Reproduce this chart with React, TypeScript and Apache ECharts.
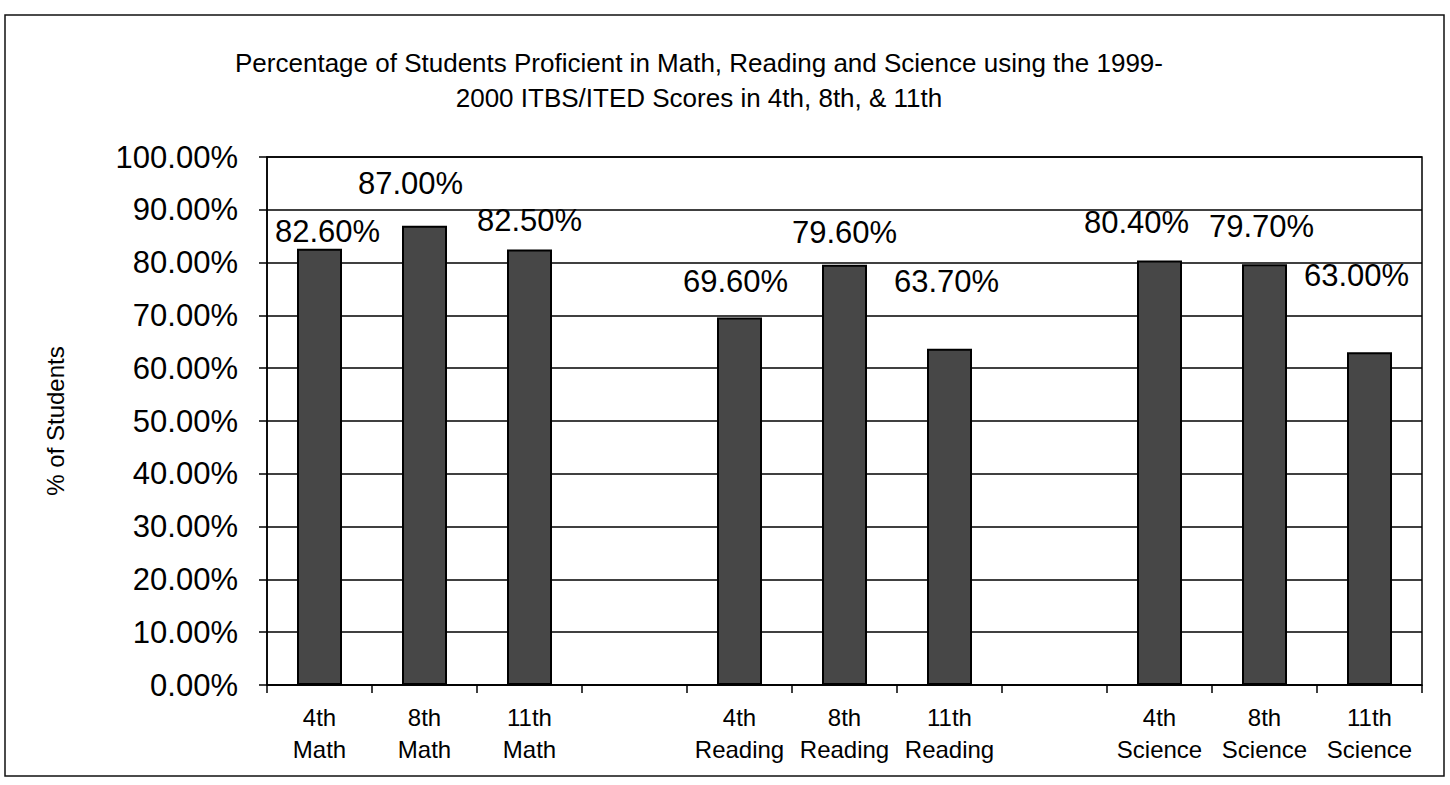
import React, { useEffect, useRef } from "react";
import * as echarts from "echarts";

const categories = [
  "4th\nMath", "8th\nMath", "11th\nMath", "",
  "4th\nReading", "8th\nReading", "11th\nReading", "",
  "4th\nScience", "8th\nScience", "11th\nScience",
];
const values: (number | null)[] = [82.6, 87.0, 82.5, null, 69.6, 79.6, 63.7, null, 80.4, 79.7, 63.0];
const labelOffsets: number[][] = [
  [8, 0], [-14, -25], [0, -11], [0, 0],
  [-4, -19], [0, -15], [-3, -50], [0, 0],
  [-23, -20], [-3, -20], [-13, -59],
];
const titleLine1 = "Percentage of Students Proficient in Math, Reading and Science using the 1999-";
const titleLine2 = "2000 ITBS/ITED Scores in 4th, 8th, & 11th";
const yAxisName = "% of Students";

const FONT = "'Liberation Sans', Arial, sans-serif";

export default function App() {
  const ref = useRef<HTMLDivElement>(null);
  useEffect(() => {
    if (!ref.current) return;
    const chart = echarts.init(ref.current, null, { renderer: "svg" });
    chart.setOption({
      animation: false,
      backgroundColor: "#fff",
      textStyle: { fontFamily: FONT, color: "#000" },
      graphic: [
        {
          type: "rect",
          shape: { x: 5, y: 15, width: 1439, height: 761 },
          style: { fill: "none", stroke: "#111", lineWidth: 1.5 },
          silent: true,
        },
        {
          type: "text",
          x: 699,
          y: 63,
          style: {
            text: titleLine1,
            font: `26px ${FONT}`,
            fill: "#000",
            textAlign: "center",
            textVerticalAlign: "middle",
          },
        },
        {
          type: "text",
          x: 699,
          y: 98,
          style: {
            text: titleLine2,
            font: `26px ${FONT}`,
            fill: "#000",
            textAlign: "center",
            textVerticalAlign: "middle",
          },
        },
      ],
      grid: {
        left: 267,
        right: 28,
        top: 157,
        bottom: 100,
        show: true,
        borderColor: "#000",
        borderWidth: 1.5,
        backgroundColor: "transparent",
      },
      xAxis: {
        type: "category",
        data: categories,
        boundaryGap: true,
        axisLine: { lineStyle: { color: "#000", width: 1.5 } },
        axisTick: { show: true, alignWithLabel: false, length: 8, lineStyle: { color: "#000", width: 1.5 } },
        axisLabel: {
          interval: 0,
          color: "#000",
          fontSize: 24,
          lineHeight: 32,
          margin: 16,
          fontFamily: FONT,
        },
      },
      yAxis: {
        type: "value",
        min: 0,
        max: 100,
        interval: 10,
        name: yAxisName,
        nameLocation: "middle",
        nameRotate: 90,
        nameGap: 200,
        nameTextStyle: { fontSize: 24, color: "#000", fontFamily: FONT },
        axisLine: { show: true, lineStyle: { color: "#000", width: 1.5 } },
        axisTick: { show: true, length: 8, lineStyle: { color: "#000", width: 1.5 } },
        axisLabel: {
          color: "#000",
          fontSize: 31,
          margin: 29,
          fontFamily: FONT,
          formatter: (v: number) => v.toFixed(2) + "%",
        },
        splitLine: { show: true, lineStyle: { color: "#000", width: 1.5 } },
      },
      series: [
        {
          type: "bar",
          barWidth: 45,
          data: values.map((v, i) =>
            v === null
              ? null
              : {
                  value: v,
                  label: { offset: labelOffsets[i] },
                }
          ),
          itemStyle: { color: "#474747", borderColor: "#000", borderWidth: 2 },
          label: {
            show: true,
            position: "top",
            distance: 2,
            color: "#000",
            fontSize: 31,
            fontFamily: FONT,
            formatter: (p: any) => Number(p.value).toFixed(2) + "%",
          },
        },
      ],
    });
    return () => chart.dispose();
  }, []);
  return (
    <div
      ref={ref}
      style={{ position: "fixed", left: 0, top: 0, width: 1450, height: 785 }}
    />
  );
}
